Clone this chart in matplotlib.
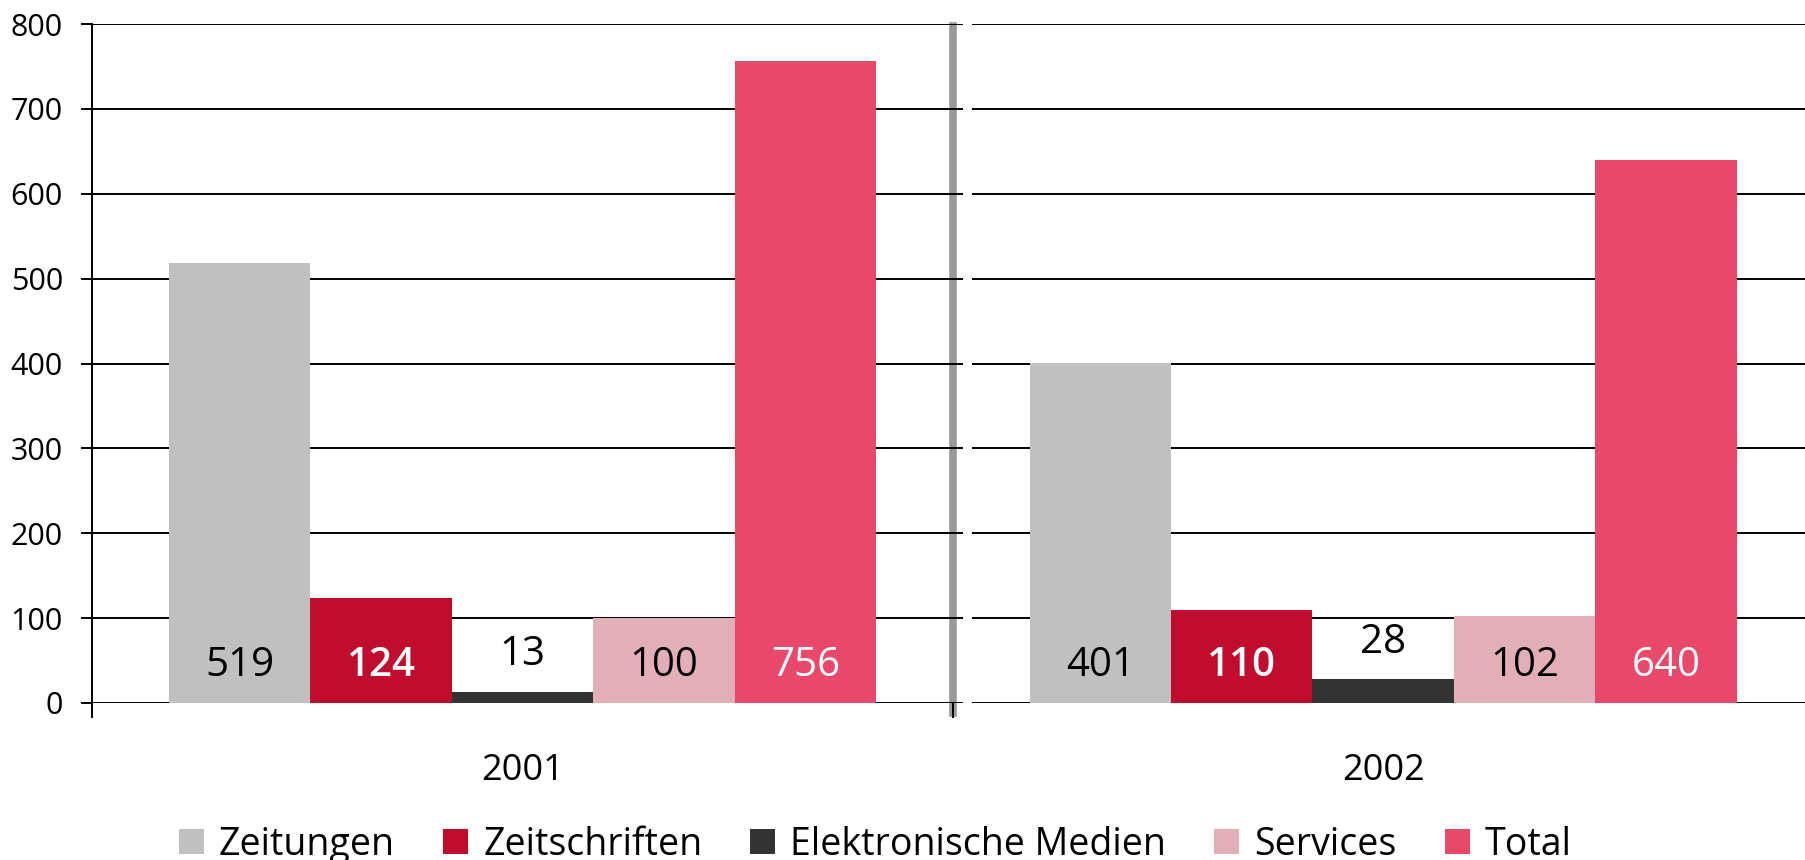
import numpy as np
from matplotlib import pyplot as plt

plt.rcParams['font.family'] = ['Open Sans', 'DejaVu Sans']

years = ["2001", "2002"]
series = ["Zeitungen", "Zeitschriften", "Elektronische Medien", "Services", "Total"]
values = {
    "Zeitungen": [519, 401],
    "Zeitschriften": [124, 110],
    "Elektronische Medien": [13, 28],
    "Services": [100, 102],
    "Total": [756, 640],
}
colors = ["#c0c0c0", "#c00d2d", "#333333", "#e2aeb7", "#e8496a"]
label_colors = ["black", "white", "black", "black", "white"]
label_weights = ["normal", "semibold", "normal", "normal", "normal"]
yticks = [0, 100, 200, 300, 400, 500, 600, 700, 800]

fig = plt.figure(figsize=(18.05, 8.6), dpi=100)
ax = fig.add_axes([0.05097, 0.18256, 0.949, 0.7895])

x = np.arange(len(years))
w = 0.1643

for i, name in enumerate(series):
    pos = x + (i - 2) * w
    ax.bar(pos, values[name], width=w, color=colors[i], zorder=3, label=name)
    for p, v in zip(pos, values[name]):
        # small bars get the label above the bar, the rest sit at the base
        base = v if v < 50 else 0
        ax.annotate(str(v), (p, base), xytext=(0, 26.5), textcoords="offset points",
                    ha="center", va="center", fontsize=29, color=label_colors[i],
                    fontweight=label_weights[i], zorder=4)

ax.set_xlim(-0.5, 1.49)
ax.set_ylim(0, 800)

# gridlines, broken just right of the separator
ax.hlines(yticks, -0.5, 0.512, color="black", lw=1.4, zorder=2)
ax.hlines(yticks, 0.5225, 1.49, color="black", lw=1.4, zorder=2)
ax.axvline(0.5, ymin=-0.0147, ymax=0.997, color="#999999", lw=5.5, clip_on=False, zorder=1)

ax.set_yticks(yticks)
ax.tick_params(axis="y", length=8, width=1.4, pad=13, labelsize=22)
ax.set_xticks([-0.5, 0.5])
ax.set_xticklabels([])
ax.tick_params(axis="x", length=10.8, width=1.4)

for yr, xc in zip(years, x):
    ax.annotate(yr, (xc, 0), xycoords=("data", "axes fraction"), xytext=(0, -49),
                textcoords="offset points", ha="center", va="center", fontsize=26)

for s in ["top", "right", "bottom"]:
    ax.spines[s].set_visible(False)
ax.spines["left"].set_linewidth(1.4)

fig.legend(loc="center", bbox_to_anchor=(0.485, 0.018), ncol=5, frameon=False,
           fontsize=27, handlelength=0.67, handleheight=0.67, handletextpad=0.4,
           columnspacing=1.28)

plt.savefig("out.png", dpi=100)
